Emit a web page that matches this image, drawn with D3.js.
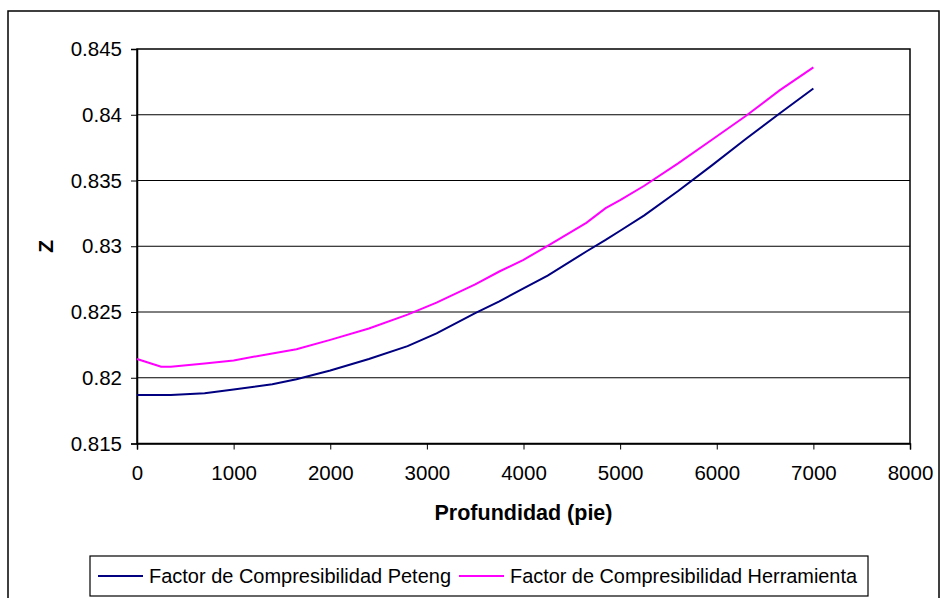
<!DOCTYPE html>
<html>
<head>
<meta charset="utf-8">
<script src="https://cdn.jsdelivr.net/npm/d3@7/dist/d3.min.js"></script>
<style>
  html, body { margin: 0; padding: 0; background: #fff; }
  svg { display: block; font-family: "Liberation Sans", Arial, sans-serif; }
</style>
</head>
<body>
<svg id="chart" width="940" height="598"></svg>
<script>
// ---- Data ----
const depth = [0, 250, 350, 700, 1000, 1400, 1650, 2000, 2400, 2800, 3100, 3500, 3750, 4000, 4250, 4650, 4850, 5000, 5250, 5600, 5950, 6300, 6650, 7000];
const zPeteng = [0.81869, 0.81869, 0.81869, 0.81883, 0.81910, 0.81950, 0.81989, 0.82055, 0.82143, 0.82240, 0.82338, 0.82492, 0.82581, 0.82680, 0.82777, 0.82960, 0.83048, 0.83118, 0.83235, 0.83420, 0.83615, 0.83815, 0.84010, 0.84200];
const zHerramienta = [0.82143, 0.82084, 0.82084, 0.82108, 0.82132, 0.82185, 0.82217, 0.82288, 0.82375, 0.82480, 0.82571, 0.82710, 0.82808, 0.82897, 0.83003, 0.83178, 0.83290, 0.83351, 0.83460, 0.83630, 0.83810, 0.83990, 0.84185, 0.84360];
const seriesNames = ["Factor de Compresibilidad Peteng", "Factor de Compresibilidad Herramienta"];
const seriesColors = ["#000080", "#FF00FF"];
const xTicks = [0, 1000, 2000, 3000, 4000, 5000, 6000, 7000, 8000];
const yTicks = [0.815, 0.82, 0.825, 0.83, 0.835, 0.84, 0.845];
const xTitle = "Profundidad (pie)";
const yTitle = "Z";

// ---- Layout ----
const svg = d3.select("#chart");
const plot = { left: 137, right: 910, top: 49, bottom: 443.5 };

const x = d3.scaleLinear().domain([0, 8000]).range([plot.left, plot.right]);
const y = d3.scaleLinear().domain([0.815, 0.845]).range([plot.bottom, plot.top]);

// outer chart frame
svg.append("rect")
  .attr("x", 8).attr("y", 11)
  .attr("width", 931).attr("height", 620)
  .attr("fill", "#fff").attr("stroke", "#000").attr("stroke-width", 1.5);

// gridlines
svg.append("g").selectAll("line")
  .data(yTicks.slice(1, -1))
  .join("line")
  .attr("x1", plot.left).attr("x2", plot.right)
  .attr("y1", d => y(d)).attr("y2", d => y(d))
  .attr("stroke", "#000").attr("stroke-width", 1);

// plot area border
svg.append("rect")
  .attr("x", plot.left).attr("y", plot.top)
  .attr("width", plot.right - plot.left).attr("height", plot.bottom - plot.top)
  .attr("fill", "none").attr("stroke", "#000").attr("stroke-width", 1.5);

// axes
const fmtY = d => d3.format("")(+d.toFixed(3));
const yAxis = d3.axisLeft(y).tickValues(yTicks).tickSize(6).tickPadding(9).tickFormat(fmtY);
const gy = svg.append("g").attr("transform", `translate(${plot.left},0)`).call(yAxis);
const xAxis = d3.axisBottom(x).tickValues(xTicks).tickSize(6).tickPadding(16).tickFormat(d3.format("d"));
const gx = svg.append("g").attr("transform", `translate(0,${plot.bottom})`).call(xAxis);
[gx, gy].forEach(g => {
  g.select(".domain").attr("stroke", "#000").attr("stroke-width", 1.5);
  g.selectAll(".tick line").attr("stroke", "#000");
  g.selectAll(".tick text").attr("fill", "#000").attr("font-size", 20.5)
    .attr("font-family", "'Liberation Sans', Arial, sans-serif");
});

// axis titles
svg.append("text")
  .attr("x", (plot.left + plot.right) / 2).attr("y", 520)
  .attr("text-anchor", "middle").attr("font-weight", "bold").attr("font-size", 21.5)
  .text(xTitle);
svg.append("text")
  .attr("transform", `translate(53,${(plot.top + plot.bottom) / 2}) rotate(-90)`)
  .attr("text-anchor", "middle").attr("font-weight", "bold").attr("font-size", 21)
  .text(yTitle);

// lines
const seriesData = [zPeteng, zHerramienta];
const line = d3.line().x(d => x(d[0])).y(d => y(d[1]));
seriesData.forEach((vals, i) => {
  svg.append("path")
    .datum(depth.map((d, j) => [d, vals[j]]))
    .attr("d", line)
    .attr("fill", "none")
    .attr("stroke", seriesColors[i])
    .attr("stroke-width", 2);
});

// legend
const lg = svg.append("g");
lg.append("rect")
  .attr("x", 90).attr("y", 556).attr("width", 778).attr("height", 40)
  .attr("fill", "#fff").attr("stroke", "#000").attr("stroke-width", 1.2);
const legendItems = [{ x1: 98, x2: 143, tx: 149 }, { x1: 459, x2: 504, tx: 510 }];
legendItems.forEach((it, i) => {
  lg.append("line")
    .attr("x1", it.x1).attr("x2", it.x2).attr("y1", 576).attr("y2", 576)
    .attr("stroke", seriesColors[i]).attr("stroke-width", 2);
  lg.append("text")
    .attr("x", it.tx).attr("y", 576).attr("dy", "0.35em")
    .attr("font-size", 19.9).attr("fill", "#000")
    .attr("textLength", i === 0 ? 302 : 347).attr("lengthAdjust", "spacingAndGlyphs")
    .text(seriesNames[i]);
});
</script>
</body>
</html>
